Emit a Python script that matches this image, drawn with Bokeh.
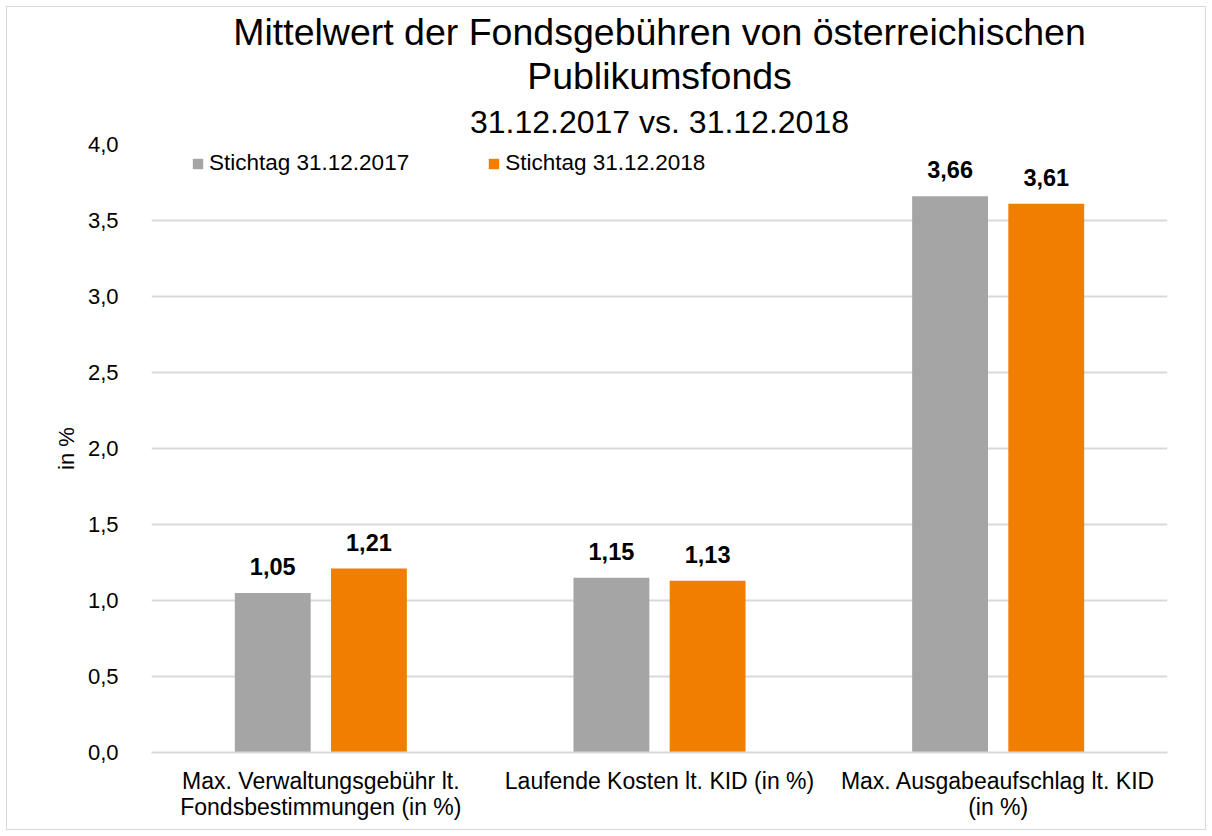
from bokeh.plotting import figure
from bokeh.models import (ColumnDataSource, Range1d, FactorRange, Legend, LegendItem,
                          CustomJSTickFormatter, Title)
from bokeh.transform import dodge
from bokeh.core.properties import value
from bokeh.embed import file_html
from bokeh.resources import INLINE

categories = ["Max. Verwaltungsgebühr lt.\nFondsbestimmungen (in %)",
              "Laufende Kosten lt. KID (in %)",
              "Max. Ausgabeaufschlag lt. KID\n(in %)"]
series_names = ["Stichtag 31.12.2017", "Stichtag 31.12.2018"]
values_2017 = [1.05, 1.15, 3.66]
values_2018 = [1.21, 1.13, 3.61]
y_ticks = [0.0, 0.5, 1.0, 1.5, 2.0, 2.5, 3.0, 3.5, 4.0]

FONT = "Liberation Sans"
GRAY = "#A5A5A5"
ORANGE = "#F07F00"
GRID = "#D9D9D9"

def fmt(v):
    return f"{v:.2f}".replace(".", ",")

src = ColumnDataSource(dict(
    cat=categories,
    v17=values_2017,
    v18=values_2018,
    l17=[fmt(v) for v in values_2017],
    l18=[fmt(v) for v in values_2018],
))

p = figure(width=1200, height=824, x_range=FactorRange(*categories, range_padding=0),
           y_range=Range1d(0, 4), output_backend="svg", toolbar_location=None,
           min_border_left=144, min_border_right=40, min_border_top=137, min_border_bottom=79)
p.x_range.factor_padding = 0
p.styles = {"border": "1px solid #D9D9D9", "margin-left": "6px", "margin-top": "6px"}
p.outline_line_color = None
p.background_fill_color = "white"
p.border_fill_color = "white"

off = 0.142
bw = 0.224
r17 = p.vbar(x=dodge("cat", -off, range=p.x_range), top="v17", width=bw, source=src,
             fill_color=GRAY, line_color=None)
r18 = p.vbar(x=dodge("cat", off, range=p.x_range), top="v18", width=bw, source=src,
             fill_color=ORANGE, line_color=None)

p.text(x=dodge("cat", -off, range=p.x_range), y="v17", text="l17", source=src,
       text_font=value(FONT), text_font_size="23.5px", text_font_style="bold",
       text_align="center", text_baseline="bottom", y_offset=-18, text_color="black")
p.text(x=dodge("cat", off, range=p.x_range), y="v18", text="l18", source=src,
       text_font=value(FONT), text_font_size="23.5px", text_font_style="bold",
       text_align="center", text_baseline="bottom", y_offset=-18, text_color="black")

# axes
p.yaxis.ticker = y_ticks
p.yaxis.formatter = CustomJSTickFormatter(code="return tick.toFixed(1).replace('.', ',');")
p.yaxis.axis_line_color = None
p.yaxis.major_tick_line_color = None
p.yaxis.minor_tick_line_color = None
p.yaxis.major_label_standoff = 27
p.yaxis.major_label_text_font = FONT
p.yaxis.major_label_text_font_size = "22px"
p.yaxis.major_label_text_color = "#000000"
p.yaxis.axis_label = "in %"
p.yaxis.axis_label_text_font = FONT
p.yaxis.axis_label_text_font_size = "22px"
p.yaxis.axis_label_text_font_style = "normal"
p.yaxis.axis_label_text_color = "#000000"
p.yaxis.axis_label_standoff = 6

p.xaxis.axis_line_color = GRID
p.xaxis.axis_line_width = 2
p.xaxis.major_tick_line_color = None
p.xaxis.minor_tick_line_color = None
p.xaxis.major_label_standoff = 9
p.xaxis.major_label_text_font = FONT
p.xaxis.major_label_text_font_size = "23px"
p.xaxis.major_label_text_line_height = 1.0
p.xaxis.major_label_text_color = "#000000"

p.xgrid.grid_line_color = None
p.ygrid.grid_line_color = GRID
p.ygrid.grid_line_width = 2

# titles
p.add_layout(Title(text="31.12.2017 vs. 31.12.2018", align="center", text_font=FONT,
                   text_font_size="32px", text_font_style="normal", text_color="black",
                   standoff=10), "above")
p.add_layout(Title(text="Publikumsfonds", align="center", text_font=FONT,
                   text_font_size="37.5px", text_font_style="normal", text_color="black",
                   standoff=0), "above")
p.add_layout(Title(text="Mittelwert der Fondsgebühren von österreichischen", align="center",
                   text_font=FONT, text_font_size="37.5px", text_font_style="normal",
                   text_color="black", standoff=0), "above")

legend = Legend(items=[LegendItem(label=series_names[0], renderers=[r17]),
                       LegendItem(label=series_names[1], renderers=[r18])],
                orientation="horizontal", location=(40, 576))
legend.label_text_font = FONT
legend.label_text_font_size = "22.5px"
legend.label_text_color = "black"
legend.glyph_width = 13
legend.glyph_height = 13
legend.label_standoff = 5
legend.spacing = 78
legend.padding = 2
legend.margin = 0
legend.border_line_color = None
legend.background_fill_alpha = 0
p.add_layout(legend)

open("out.html", "w").write(file_html(p, INLINE))
